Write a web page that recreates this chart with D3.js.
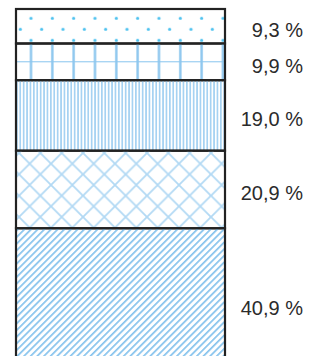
<!DOCTYPE html>
<html>
<head>
<meta charset="utf-8">
<script src="https://cdn.jsdelivr.net/npm/d3@7"></script>
<style>
  html, body { margin: 0; padding: 0; background: #fff; }
  svg { display: block; }
</style>
</head>
<body>
<svg id="chart" width="315" height="356"></svg>
<script>
// shares from top to bottom of the stacked column
const shares = [9.3, 9.9, 19.0, 20.9, 40.9];
const labels = ["9,3 %", "9,9 %", "19,0 %", "20,9 %", "40,9 %"];
const patternIds = ["dots", "grid", "vstripes", "diamonds", "diag"];

const svg = d3.select("#chart");

// the column runs below the bottom edge of the picture
const yScale = d3.scaleLinear().domain([0, 100]).range([9, 380]);
const xLeft = 16, xRight = 225;

/**
 * Builds the fill patterns used by the segments.
 */
function addPatterns(defs) {
  const dots = defs.append("pattern")
    .attr("id", "dots").attr("patternUnits", "userSpaceOnUse")
    .attr("x", 25.67).attr("y", 12.8)
    .attr("width", 21.33).attr("height", 22);
  dots.append("circle").attr("cx", 5.33).attr("cy", 5.5).attr("r", 1.6).attr("fill", "#4ec2ef");
  dots.append("circle").attr("cx", 16).attr("cy", 16.5).attr("r", 1.6).attr("fill", "#4ec2ef");

  const grid = defs.append("pattern")
    .attr("id", "grid").attr("patternUnits", "userSpaceOnUse")
    .attr("x", 25.67).attr("y", 45)
    .attr("width", 21.33).attr("height", 34);
  grid.append("line").attr("x1", 0).attr("x2", 21.33).attr("y1", 16.7).attr("y2", 16.7)
    .attr("stroke", "#a9d5f3").attr("stroke-width", 1.4);
  grid.append("line").attr("x1", 5.33).attr("x2", 5.33).attr("y1", 0).attr("y2", 34)
    .attr("stroke", "#8cc6ee").attr("stroke-width", 2.4);

  const stripes = defs.append("pattern")
    .attr("id", "vstripes").attr("patternUnits", "userSpaceOnUse")
    .attr("x", 16).attr("y", 0)
    .attr("width", 3.4).attr("height", 10);
  stripes.append("rect").attr("x", 0).attr("y", 0).attr("width", 1.7).attr("height", 10)
    .attr("fill", "#a6d2f2");

  const diamonds = defs.append("pattern")
    .attr("id", "diamonds").attr("patternUnits", "userSpaceOnUse")
    .attr("x", 19).attr("y", 153)
    .attr("width", 21.33).attr("height", 21.33);
  diamonds.append("path")
    .attr("d", "M0,0L21.33,21.33M0,21.33L21.33,0")
    .attr("stroke", "#b2d9f4").attr("stroke-width", 1.8).attr("fill", "none");

  // "/" hatch
  const diag = defs.append("pattern")
    .attr("id", "diag").attr("patternUnits", "userSpaceOnUse")
    .attr("patternTransform", "rotate(45)")
    .attr("width", 4.7).attr("height", 10);
  diag.append("rect").attr("x", 0).attr("y", 0).attr("width", 1.7).attr("height", 10)
    .attr("fill", "#86c3ed");
}

addPatterns(svg.append("defs"));

// stacked positions
let acc = 0;
const segments = shares.map(function (v, i) {
  const seg = { value: v, label: labels[i], pattern: patternIds[i], y0: acc, y1: acc + v };
  acc += v;
  return seg;
});

const g = svg.append("g");

g.selectAll(".segment")
  .data(segments)
  .join("rect")
  .attr("class", "segment")
  .attr("x", xLeft)
  .attr("y", d => yScale(d.y0))
  .attr("width", xRight - xLeft)
  .attr("height", d => yScale(d.y1) - yScale(d.y0))
  .attr("fill", d => "url(#" + d.pattern + ")")
  .attr("stroke", "#222")
  .attr("stroke-width", 2.2);

g.selectAll(".value-label")
  .data(segments)
  .join("text")
  .attr("class", "value-label")
  .attr("x", 303)
  .attr("y", d => (yScale(d.y0) + yScale(d.y1)) / 2 + 4)
  .attr("text-anchor", "end")
  .attr("dominant-baseline", "central")
  .attr("font-family", "Liberation Sans, Arial, sans-serif")
  .attr("font-size", 20)
  .attr("fill", "#2b2b2b")
  .text(d => d.label);
</script>
</body>
</html>
